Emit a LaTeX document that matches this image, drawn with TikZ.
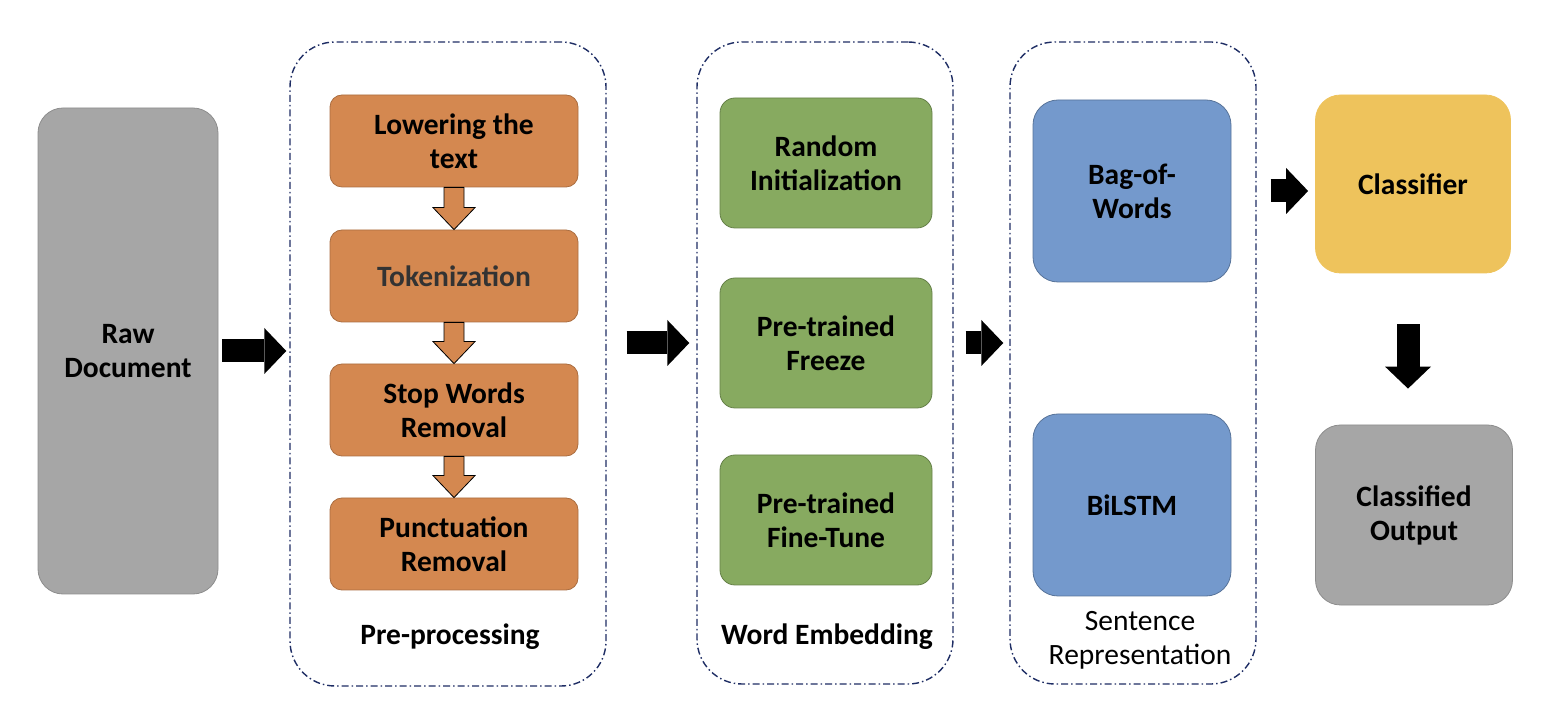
\documentclass[tikz,border=0pt]{standalone}
\usepackage{fontspec}
\setmainfont{Carlito}
\usetikzlibrary{positioning,arrows.meta}
\definecolor{rawgray}{RGB}{166,166,166}
\definecolor{prefill}{RGB}{212,136,80}
\definecolor{embfill}{RGB}{135,170,96}
\definecolor{repfill}{RGB}{116,153,204}
\definecolor{clsfill}{RGB}{238,195,92}
\definecolor{grpblue}{RGB}{30,45,100}

\begin{document}
\begin{tikzpicture}[x=1pt, y=1pt,
  font=\fontsize{29.5}{34}\selectfont\bfseries,
  box/.style={draw, align=center, inner sep=0pt, line width=0.8pt},
  prebox/.style={box, fill=prefill, draw=prefill!80!black, rounded corners=12pt, minimum width=248pt, minimum height=92pt},
  embbox/.style={box, fill=embfill, draw=embfill!75!black, rounded corners=15pt, minimum width=212pt, minimum height=130pt},
  repbox/.style={box, fill=repfill, draw=repfill!75!black, rounded corners=25pt, minimum width=198pt, minimum height=182pt},
  grp/.style={draw=grpblue, line width=1.4pt, rounded corners=45pt, dash pattern=on 7pt off 3pt on 1.5pt off 3pt},
  blk/.style={line width=23pt, -{Triangle[length=22pt, width=46pt, line width=0pt]}},
  sub/.style={fill=prefill, draw=black, line width=0.8pt, line join=miter},
  lbl/.style={align=center}]
\useasboundingbox (0,0) rectangle (1546,720);
% groups
\node[grp, minimum width=316pt, minimum height=644pt] (pre) at (448,356) {};
\node[grp, minimum width=256pt, minimum height=642pt] (emb) at (825,357) {};
\node[grp, minimum width=246pt, minimum height=642pt] (rep) at (1133,357) {};
\node[lbl] (prelbl) at (450,83) {Pre-processing};
\node[lbl] (emblbl) at (827,83) {Word Embedding};
\node[lbl, font=\fontsize{29.5}{34}\selectfont] (replbl) at (1140,80) {Sentence\\Representation};
% boxes
\node[box, fill=rawgray, draw=rawgray!85!black, rounded corners=25pt, minimum width=180pt, minimum height=486pt] (raw) at (128,369) {Raw\\Document};
\node[prebox] (low) at (454,579) {Lowering the\\text};
\node[prebox, text=black!80] (tok) at (454,444) {Tokenization};
\node[prebox] (stop) at (454,310) {Stop Words\\Removal};
\node[prebox] (punc) at (454,176) {Punctuation\\Removal};
\node[embbox] (rnd) at (826,557) {Random\\Initialization};
\node[embbox] (frz) at (826,377) {Pre-trained\\Freeze};
\node[embbox] (fin) at (826,200) {Pre-trained\\Fine-Tune};
\node[repbox] (bow) at (1132,529) {Bag-of-\\Words};
\node[repbox] (bil) at (1132,215) {BiLSTM};
\node[box, fill=clsfill, draw=clsfill, rounded corners=25pt, minimum width=195pt, minimum height=178pt] (cls) at (1413,536) {Classifier};
\node[box, fill=rawgray, draw=rawgray!85!black, rounded corners=25pt, minimum width=197pt, minimum height=180pt] (out) at (1414,205) {Classified\\Output};
% arrows
\foreach \a/\b in {low/tok, tok/stop, stop/punc}
  \filldraw[sub] ([xshift=-10pt]\a.south) -- ([xshift=-10pt, yshift=22pt]\b.north)
    -- ([xshift=-21pt, yshift=22pt]\b.north) -- (\b.north)
    -- ([xshift=21pt, yshift=22pt]\b.north) -- ([xshift=10pt, yshift=22pt]\b.north)
    -- ([xshift=10pt]\a.south) -- cycle;
\draw[blk, shorten <=4pt, shorten >=3pt] (raw.east) -- (raw.east -| pre.west);
\draw[blk, shorten <=20pt, shorten >=7pt] (pre.east |- frz) -- (emb.west |- frz);
\draw[blk, shorten <=12pt, shorten >=6pt] (emb.east |- frz) -- (rep.west |- frz);
\draw[blk, shorten <=14pt, shorten >=7pt] ([yshift=-7pt]rep.east |- cls) -- ([yshift=-7pt]cls.west);
\draw[blk, shorten <=51pt, shorten >=36pt] ([xshift=-5pt]cls.south) -- ([xshift=-5pt]cls.south |- out.north);
\end{tikzpicture}
\end{document}
